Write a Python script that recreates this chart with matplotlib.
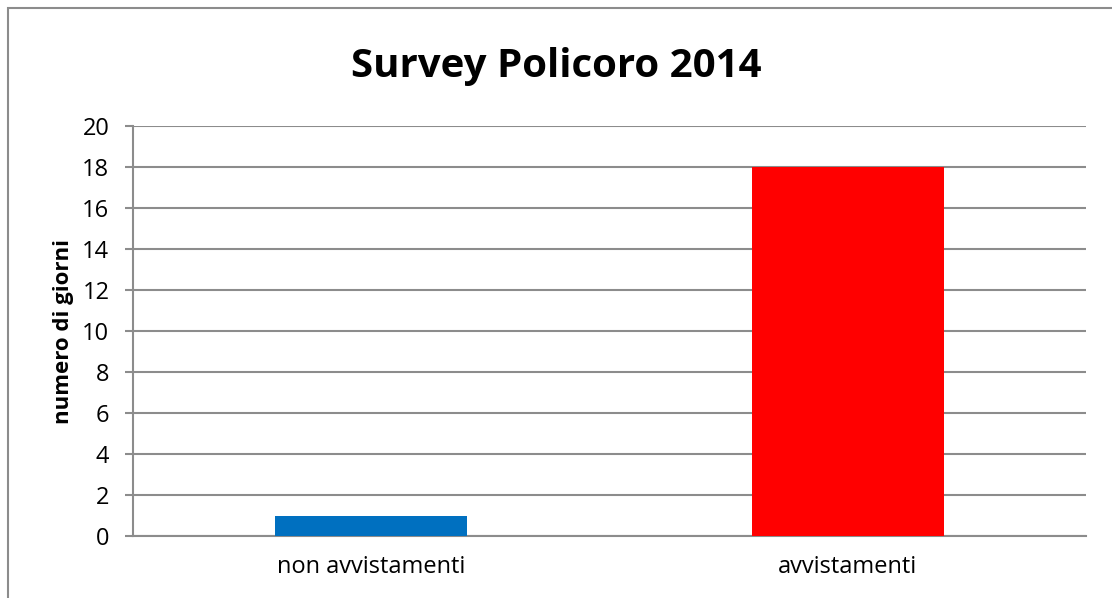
"""
Bar chart of survey days, Policoro 2014
"""

import numpy as np
import matplotlib
matplotlib.use('Agg')
import matplotlib.pyplot as plt
from matplotlib.patches import Rectangle

plt.rcParams.update({
    'font.family': ['Open Sans', 'DejaVu Sans'],
    'xtick.labelsize': 17,
    'ytick.labelsize': 17,
})

categories = ['non avvistamenti', 'avvistamenti']
giorni = [1, 18]
bar_colors = ['#0070C0', '#FF0000']
y_ticks = [0, 2, 4, 6, 8, 10, 12, 14, 16, 18, 20]

grid_color = '#8C8C8C'

fig = plt.figure(figsize=(11.12, 5.98), dpi=100)
ax = fig.add_axes([133 / 1112, 62 / 598, 953 / 1112, 410 / 598])

x = np.arange(len(categories))
ax.bar(x, giorni, width=0.403, color=bar_colors, zorder=3)

ax.set_xlim(-0.5, 1.5)
ax.set_ylim(0, 20)
ax.set_yticks(y_ticks)
ax.set_xticks(x)
ax.set_xticklabels(categories)

# gridlines like excel
ax.yaxis.grid(True, color=grid_color, linewidth=1.5, zorder=0)
ax.set_axisbelow(True)

for side in ['top', 'right']:
    ax.spines[side].set_visible(False)
for side in ['left', 'bottom']:
    ax.spines[side].set_color(grid_color)
    ax.spines[side].set_linewidth(1.5)

ax.tick_params(axis='y', length=6, width=1.5, color=grid_color, pad=11)
ax.tick_params(axis='x', length=0, pad=14)

ax.set_ylabel('numero di giorni', fontsize=16, fontweight='bold', labelpad=6)

fig.text(0.5, 1 - 66 / 598, 'Survey Policoro 2014', ha='center', va='center',
         fontsize=29, fontweight='bold')

# outer chart border (only left and top visible in the crop)
fig.patches.append(Rectangle((7.5 / 1112, -0.1), 1.2, 1 - 7.5 / 598 + 0.1,
                             transform=fig.transFigure, fill=False,
                             edgecolor='#8C8C8C', linewidth=1.5))

fig.savefig('out.png', dpi=100)
